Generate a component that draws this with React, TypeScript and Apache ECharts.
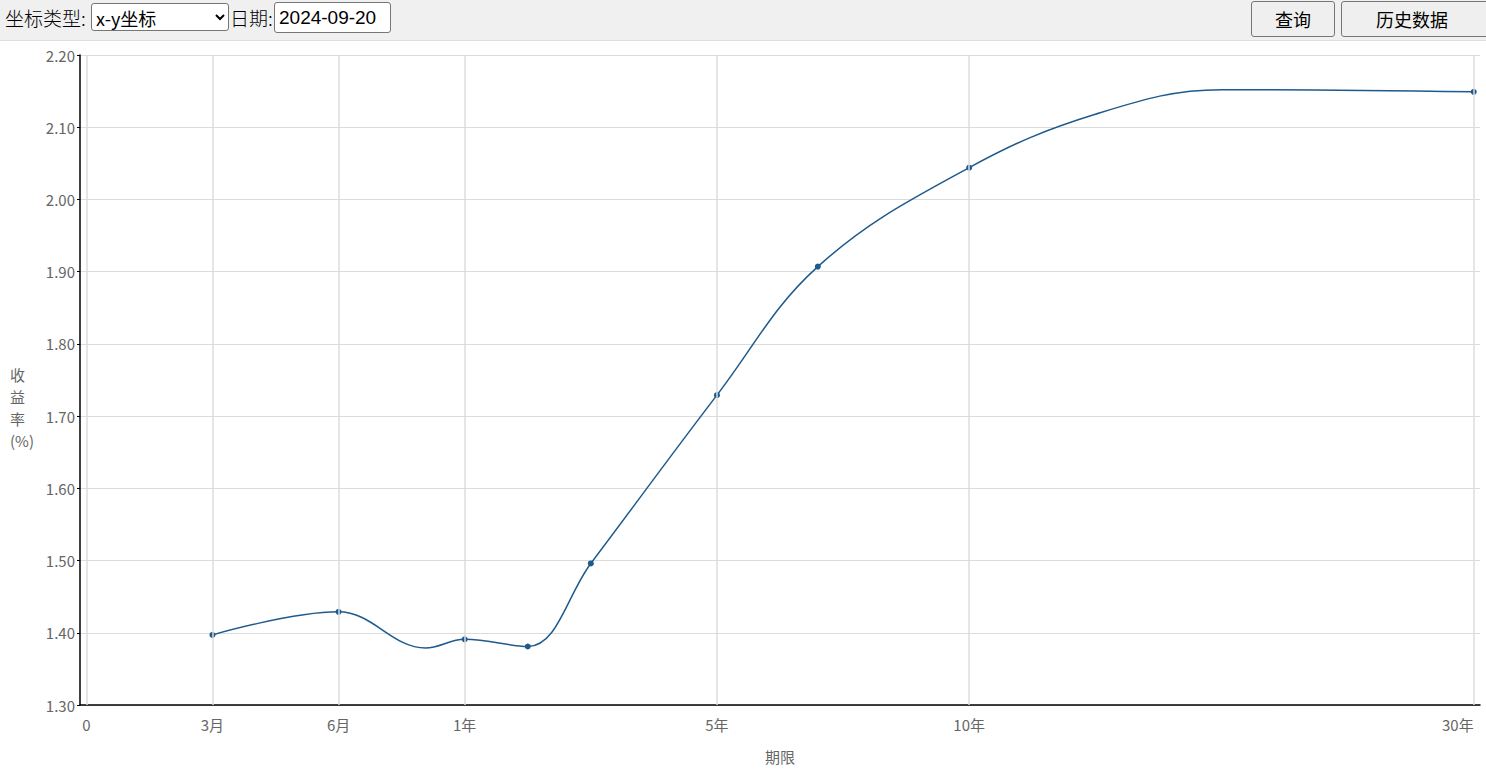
import React, { useEffect, useRef } from "react";
import * as echarts from "echarts";

// Axis ticks: position on the axis and label
const tickPos = [0, 1, 2, 3, 5, 7, 11];
const tickLabels = ["0", "3月", "6月", "1年", "5年", "10年", "30年"];

// Yield curve: axis position, yield (%), and whether a marker is drawn
const curvePos = [1, 2, 2.69, 3, 3.5, 4, 5, 5.8, 7, 8, 9, 11];
const yields = [1.397, 1.429, 1.379, 1.391, 1.381, 1.496, 1.729, 1.907, 2.044, 2.118, 2.152, 2.149];
const marked = [true, true, false, true, true, true, true, true, true, false, false, true];

const yTicks = { min: 1.3, max: 2.2, interval: 0.1 };

const LINE_COLOR = "#1f5a8c";
const FONT = '"Noto Sans CJK SC", "Noto Sans", sans-serif';

function Chart() {
  const ref = useRef<HTMLDivElement>(null);
  useEffect(() => {
    if (!ref.current) return;
    const chart = echarts.init(ref.current, undefined, { renderer: "svg" });
    const curveData = curvePos.map((p, i) => ({
      value: [p, yields[i]],
      symbol: marked[i] ? "circle" : "none",
      symbolSize: marked[i] ? 6 : 0,
    }));
    chart.setOption({
      animation: false,
      grid: { left: 80, right: 6, top: 14, bottom: 70 },
      xAxis: {
        type: "value",
        min: -0.05,
        max: 11.05,
        name: "期限",
        nameLocation: "middle",
        nameGap: 44,
        nameTextStyle: { color: "#666", fontSize: 15, fontFamily: FONT },
        axisLine: { show: true, onZero: false, lineStyle: { color: "#000", width: 1.5 } },
        axisTick: { show: false },
        splitLine: { show: false },
        axisLabel: {
          customValues: tickPos,
          formatter: (v: number) => {
            const i = tickPos.indexOf(v);
            return i >= 0 ? tickLabels[i] : "";
          },
          color: "#666",
          fontSize: 15,
          fontFamily: FONT,
          margin: 12,
          alignMaxLabel: "right",
        },
      },
      yAxis: {
        type: "value",
        min: yTicks.min,
        max: yTicks.max,
        interval: yTicks.interval,
        axisLine: { show: true, onZero: false, lineStyle: { color: "#000", width: 1.5 } },
        axisTick: { show: true, length: 3, lineStyle: { color: "#000" } },
        splitLine: { show: true, lineStyle: { color: "#dcdcdc", width: 1 } },
        axisLabel: {
          formatter: (v: number) => v.toFixed(2),
          color: "#666",
          fontSize: 15,
          fontFamily: FONT,
          margin: 5,
        },
      },
      graphic: [
        {
          type: "text",
          left: 10,
          top: 322,
          style: {
            text: "收\n益\n率\n(%)",
            fill: "#666",
            fontSize: 15,
            fontFamily: FONT,
            lineHeight: 22,
            align: "center",
          },
        },
      ],
      series: [
        {
          type: "scatter",
          z: 1,
          silent: true,
          symbolSize: 0,
          data: curvePos.map((p, i) => [p, yields[i]]),
          markLine: {
            silent: true,
            symbol: "none",
            label: { show: false },
            lineStyle: { color: "#dcdcdc", type: "solid", width: 1.5 },
            data: tickPos.map((p) => ({ xAxis: p })),
          },
        },
        {
          type: "line",
          z: 3,
          smooth: 0.38,
          showAllSymbol: true,
          symbol: "circle",
          symbolSize: 6,
          itemStyle: { color: LINE_COLOR, borderWidth: 0 },
          lineStyle: { color: LINE_COLOR, width: 1.5 },
          data: curveData,
        },
      ],
    });
    return () => chart.dispose();
  }, []);
  return <div ref={ref} style={{ width: "1486px", height: "734px" }} />;
}

export default function App() {
  useEffect(() => {
    document.body.style.margin = "0";
  }, []);
  const ctl: React.CSSProperties = {
    position: "absolute",
    fontFamily: FONT,
    fontSize: 18,
    color: "#000",
    boxSizing: "border-box",
  };
  const btn: React.CSSProperties = {
    ...ctl,
    top: 1,
    height: 36,
    background: "#efefef",
    border: "1px solid #767676",
    borderRadius: 3,
    padding: 0,
  };
  return (
    <div style={{ margin: 0, width: 1486, overflow: "hidden" }}>
      <div
        style={{
          position: "relative",
          height: 40,
          background: "#f0f0f0",
          borderBottom: "1px solid #dedede",
        }}
      >
        <span style={{ ...ctl, left: 5, top: 5, fontSize: 19, lineHeight: "26px", fontWeight: 300 }}>坐标类型:</span>
        <select
          defaultValue="xy"
          style={{
            ...ctl,
            left: 91,
            top: 3,
            width: 138,
            height: 28,
            background: "#fff",
            border: "1px solid #767676",
            borderRadius: 3,
            fontSize: 18,
          }}
        >
          <option value="xy">x-y坐标</option>
        </select>
        <span style={{ ...ctl, left: 230, top: 5, fontSize: 19, lineHeight: "26px", fontWeight: 300 }}>日期:</span>
        <input
          defaultValue="2024-09-20"
          style={{
            ...ctl,
            left: 274,
            top: 2,
            width: 117,
            height: 31,
            background: "#fff",
            border: "1px solid #767676",
            borderRadius: 3,
            padding: "0 4px",
            fontFamily: '"Liberation Sans", Arial, sans-serif',
            fontSize: 19,
          }}
        />
        <button style={{ ...btn, left: 1251, width: 84 }}>查询</button>
        <button style={{ ...btn, left: 1341, width: 150, paddingRight: 8 }}>历史数据</button>
      </div>
      <Chart />
    </div>
  );
}
